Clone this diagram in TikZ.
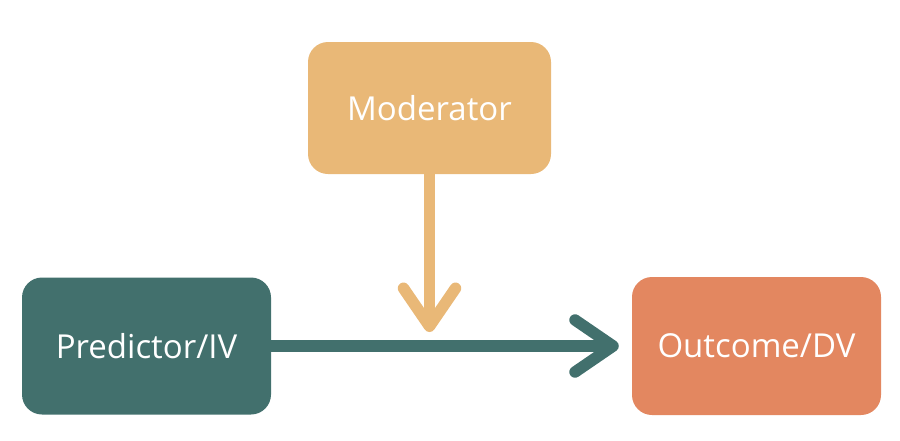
\documentclass[tikz,border=0pt]{standalone}
\usepackage{fontspec}
\setmainfont{Open Sans}
\usetikzlibrary{arrows.meta}
\definecolor{modc}{HTML}{E9B877}
\definecolor{predc}{HTML}{42706D}
\definecolor{outc}{HTML}{E38760}
\tikzset{
  box/.style={rounded corners=20pt, inner sep=0pt, minimum width=#1, text=white,
    font=\fontsize{33}{37}\selectfont},
  box/.default=249pt,
  conn/.style={line width=11.5pt, -{Straight Barb[length=38pt, width=52pt, line cap=round, line join=round]}},
}
\begin{document}
\begin{tikzpicture}[x=1pt, y=-1pt]
\useasboundingbox (0,0) rectangle (900,440);
\node[box=243pt, fill=modc, minimum height=132pt] (mod) at (429.5,108) {Moderator};
\node[box, fill=predc, minimum height=137pt] (pred) at (146.5,346) {Predictor/IV};
\node[box, fill=outc, minimum height=138pt] (out) at (756.5,346) {Outcome/DV};
\coordinate (meet) at (mod.south |- pred.east);
\draw[conn, predc, shorten >=13pt] (pred.east) -- (out.west);
\draw[conn, modc, shorten >=14pt] (mod.south) -- (meet);
\end{tikzpicture}
\end{document}
